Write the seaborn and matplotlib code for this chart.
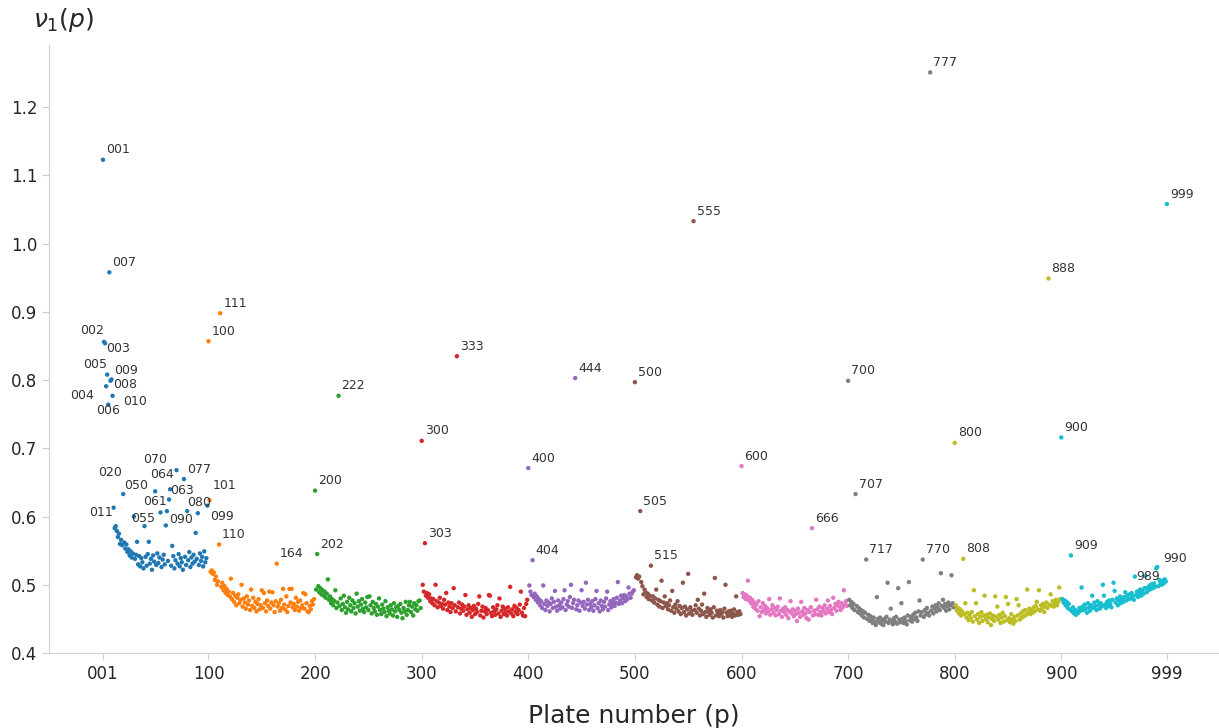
import numpy as np
import pandas as pd
import matplotlib
matplotlib.use("Agg")
import matplotlib.pyplot as plt
import seaborn as sns

# nu_1(p) for plates 001-999, one list per hundred
v000 = [1.123, 0.856, 0.854, 0.791, 0.808, 0.764, 0.958, 0.799, 0.801, 0.777,
        0.613, 0.583, 0.586, 0.579, 0.570, 0.575, 0.560, 0.566, 0.558, 0.633,
        0.562, 0.553, 0.559, 0.548, 0.552, 0.543, 0.549, 0.540, 0.546, 0.600,
        0.538, 0.544, 0.563, 0.530, 0.542, 0.527, 0.539, 0.533, 0.524, 0.586,
        0.541, 0.528, 0.545, 0.563, 0.531, 0.538, 0.522, 0.543, 0.534, 0.637,
        0.529, 0.546, 0.532, 0.540, 0.606, 0.526, 0.537, 0.544, 0.530, 0.587,
        0.608, 0.535, 0.625, 0.640, 0.528, 0.557, 0.542, 0.524, 0.536, 0.668,
        0.531, 0.545, 0.527, 0.539, 0.533, 0.522, 0.655, 0.541, 0.529, 0.608,
        0.536, 0.548, 0.526, 0.540, 0.531, 0.544, 0.534, 0.576, 0.538, 0.605,
        0.529, 0.546, 0.535, 0.541, 0.527, 0.549, 0.533, 0.539, 0.616]
v100 = [0.857, 0.624, 0.519, 0.521, 0.516, 0.518, 0.507, 0.512, 0.500, 0.505,
        0.559, 0.898, 0.497, 0.503, 0.492, 0.498, 0.488, 0.494, 0.485, 0.490,
        0.483, 0.509, 0.479, 0.488, 0.475, 0.484, 0.470, 0.481, 0.486, 0.473,
        0.478, 0.500, 0.468, 0.480, 0.474, 0.465, 0.483, 0.471, 0.477, 0.463,
        0.493, 0.469, 0.481, 0.466, 0.475, 0.461, 0.472, 0.479, 0.464, 0.470,
        0.492, 0.466, 0.488, 0.473, 0.461, 0.477, 0.469, 0.490, 0.465, 0.474,
        0.489, 0.470, 0.460, 0.476, 0.531, 0.468, 0.473, 0.462, 0.478, 0.466,
        0.494, 0.471, 0.464, 0.483, 0.460, 0.469, 0.494, 0.474, 0.494, 0.467,
        0.472, 0.463, 0.481, 0.468, 0.475, 0.462, 0.477, 0.466, 0.470, 0.488,
        0.465, 0.486, 0.473, 0.461, 0.460, 0.469, 0.464, 0.476, 0.471, 0.479]
v200 = [0.638, 0.493, 0.545, 0.498, 0.489, 0.495, 0.486, 0.492, 0.484, 0.490,
        0.481, 0.487, 0.508, 0.478, 0.483, 0.473, 0.479, 0.470, 0.476, 0.492,
        0.466, 0.474, 0.777, 0.469, 0.480, 0.463, 0.472, 0.484, 0.467, 0.459,
        0.475, 0.464, 0.481, 0.470, 0.461, 0.477, 0.466, 0.473, 0.458, 0.487,
        0.468, 0.476, 0.462, 0.471, 0.479, 0.465, 0.460, 0.474, 0.467, 0.482,
        0.463, 0.483, 0.470, 0.458, 0.475, 0.466, 0.461, 0.472, 0.456, 0.468,
        0.480, 0.463, 0.457, 0.471, 0.465, 0.460, 0.476, 0.454, 0.467, 0.462,
        0.458, 0.470, 0.464, 0.455, 0.473, 0.461, 0.467, 0.453, 0.469, 0.463,
        0.472, 0.459, 0.451, 0.466, 0.461, 0.475, 0.456, 0.463, 0.470, 0.475,
        0.460, 0.468, 0.455, 0.473, 0.464, 0.470, 0.462, 0.476, 0.477, 0.466]
v300 = [0.711, 0.500, 0.490, 0.561, 0.484, 0.488, 0.481, 0.486, 0.476, 0.480,
        0.473, 0.479, 0.470, 0.500, 0.476, 0.467, 0.474, 0.481, 0.469, 0.472,
        0.465, 0.478, 0.471, 0.488, 0.463, 0.474, 0.468, 0.460, 0.473, 0.466,
        0.495, 0.470, 0.461, 0.835, 0.467, 0.474, 0.458, 0.465, 0.471, 0.462,
        0.468, 0.485, 0.456, 0.464, 0.470, 0.459, 0.466, 0.453, 0.463, 0.469,
        0.457, 0.465, 0.460, 0.472, 0.483, 0.455, 0.462, 0.468, 0.452, 0.461,
        0.466, 0.457, 0.463, 0.485, 0.484, 0.459, 0.454, 0.467, 0.461, 0.456,
        0.464, 0.470, 0.458, 0.480, 0.453, 0.462, 0.468, 0.457, 0.465, 0.460,
        0.455, 0.467, 0.461, 0.497, 0.458, 0.464, 0.454, 0.469, 0.460, 0.466,
        0.457, 0.463, 0.471, 0.490, 0.459, 0.455, 0.466, 0.454, 0.472, 0.478]
v400 = [0.671, 0.499, 0.490, 0.485, 0.536, 0.482, 0.487, 0.478, 0.483, 0.474,
        0.479, 0.470, 0.476, 0.466, 0.499, 0.472, 0.463, 0.477, 0.469, 0.474,
        0.461, 0.472, 0.480, 0.466, 0.475, 0.491, 0.468, 0.462, 0.477, 0.470,
        0.465, 0.474, 0.467, 0.479, 0.492, 0.463, 0.471, 0.476, 0.468, 0.482,
        0.500, 0.466, 0.473, 0.478, 0.803, 0.464, 0.470, 0.477, 0.462, 0.474,
        0.492, 0.469, 0.475, 0.465, 0.503, 0.471, 0.478, 0.463, 0.472, 0.467,
        0.476, 0.462, 0.470, 0.479, 0.491, 0.466, 0.473, 0.461, 0.477, 0.469,
        0.464, 0.475, 0.468, 0.480, 0.490, 0.463, 0.471, 0.476, 0.467, 0.473,
        0.479, 0.469, 0.474, 0.481, 0.504, 0.472, 0.477, 0.484, 0.473, 0.480,
        0.485, 0.476, 0.483, 0.479, 0.496, 0.487, 0.481, 0.487, 0.490, 0.492]
v500 = [0.797, 0.511, 0.514, 0.509, 0.512, 0.608, 0.504, 0.498, 0.486, 0.493,
        0.489, 0.482, 0.487, 0.479, 0.484, 0.528, 0.477, 0.483, 0.474, 0.480,
        0.493, 0.471, 0.478, 0.468, 0.476, 0.506, 0.466, 0.474, 0.483, 0.469,
        0.473, 0.464, 0.470, 0.477, 0.462, 0.491, 0.467, 0.459, 0.471, 0.465,
        0.476, 0.461, 0.469, 0.457, 0.466, 0.503, 0.460, 0.468, 0.455, 0.464,
        0.516, 0.458, 0.467, 0.462, 0.456, 1.033, 0.463, 0.470, 0.459, 0.478,
        0.465, 0.455, 0.462, 0.471, 0.457, 0.487, 0.460, 0.453, 0.466, 0.461,
        0.456, 0.464, 0.459, 0.452, 0.467, 0.510, 0.455, 0.462, 0.458, 0.454,
        0.463, 0.457, 0.460, 0.452, 0.465, 0.500, 0.459, 0.454, 0.461, 0.456,
        0.462, 0.453, 0.458, 0.464, 0.455, 0.483, 0.460, 0.456, 0.461, 0.457]
v600 = [0.674, 0.488, 0.482, 0.486, 0.479, 0.484, 0.506, 0.477, 0.481, 0.473,
        0.478, 0.468, 0.474, 0.465, 0.471, 0.462, 0.476, 0.454, 0.467, 0.460,
        0.473, 0.463, 0.469, 0.458, 0.466, 0.461, 0.479, 0.456, 0.464, 0.470,
        0.459, 0.466, 0.455, 0.463, 0.468, 0.457, 0.480, 0.462, 0.453, 0.465,
        0.460, 0.467, 0.456, 0.463, 0.451, 0.461, 0.476, 0.458, 0.464, 0.454,
        0.462, 0.457, 0.447, 0.465, 0.459, 0.453, 0.475, 0.461, 0.456, 0.466,
        0.458, 0.451, 0.463, 0.449, 0.460, 0.467, 0.583, 0.455, 0.462, 0.457,
        0.478, 0.464, 0.456, 0.468, 0.460, 0.455, 0.466, 0.461, 0.470, 0.458,
        0.465, 0.477, 0.460, 0.469, 0.463, 0.457, 0.481, 0.466, 0.472, 0.462,
        0.470, 0.475, 0.468, 0.463, 0.473, 0.467, 0.492, 0.471, 0.476, 0.469]
v700 = [0.799, 0.478, 0.470, 0.475, 0.466, 0.472, 0.463, 0.633, 0.469, 0.460,
        0.466, 0.458, 0.463, 0.455, 0.461, 0.452, 0.459, 0.537, 0.450, 0.456,
        0.447, 0.454, 0.449, 0.444, 0.452, 0.446, 0.441, 0.482, 0.450, 0.445,
        0.452, 0.443, 0.448, 0.441, 0.450, 0.446, 0.453, 0.503, 0.444, 0.449,
        0.465, 0.447, 0.442, 0.451, 0.446, 0.453, 0.443, 0.495, 0.449, 0.445,
        0.473, 0.450, 0.444, 0.452, 0.447, 0.442, 0.455, 0.504, 0.448, 0.453,
        0.446, 0.456, 0.450, 0.459, 0.452, 0.447, 0.461, 0.477, 0.455, 0.460,
        0.537, 0.453, 0.463, 0.457, 0.466, 0.459, 0.455, 1.251, 0.462, 0.468,
        0.458, 0.465, 0.470, 0.461, 0.467, 0.473, 0.463, 0.517, 0.469, 0.478,
        0.466, 0.472, 0.462, 0.469, 0.474, 0.464, 0.470, 0.514, 0.473, 0.467]
v800 = [0.708, 0.470, 0.462, 0.466, 0.458, 0.464, 0.455, 0.461, 0.538, 0.457,
        0.473, 0.452, 0.459, 0.448, 0.456, 0.451, 0.460, 0.446, 0.492, 0.454,
        0.473, 0.449, 0.457, 0.444, 0.453, 0.460, 0.447, 0.455, 0.484, 0.450,
        0.456, 0.445, 0.452, 0.458, 0.441, 0.450, 0.455, 0.447, 0.483, 0.453,
        0.468, 0.449, 0.456, 0.444, 0.452, 0.459, 0.446, 0.454, 0.482, 0.448,
        0.472, 0.451, 0.445, 0.457, 0.449, 0.443, 0.453, 0.447, 0.479, 0.455,
        0.470, 0.449, 0.458, 0.452, 0.461, 0.454, 0.463, 0.456, 0.493, 0.459,
        0.465, 0.457, 0.463, 0.459, 0.467, 0.461, 0.469, 0.475, 0.464, 0.492,
        0.462, 0.470, 0.465, 0.472, 0.460, 0.468, 0.474, 0.466, 0.949, 0.471,
        0.486, 0.469, 0.476, 0.468, 0.473, 0.478, 0.470, 0.475, 0.496, 0.479]
v900 = [0.716, 0.479, 0.474, 0.477, 0.470, 0.475, 0.466, 0.472, 0.464, 0.543,
        0.461, 0.467, 0.458, 0.463, 0.456, 0.461, 0.459, 0.466, 0.462, 0.496,
        0.468, 0.463, 0.471, 0.465, 0.459, 0.473, 0.467, 0.462, 0.470, 0.484,
        0.466, 0.474, 0.469, 0.463, 0.476, 0.470, 0.465, 0.473, 0.468, 0.500,
        0.484, 0.471, 0.466, 0.475, 0.469, 0.477, 0.472, 0.467, 0.478, 0.503,
        0.491, 0.474, 0.480, 0.470, 0.477, 0.483, 0.473, 0.479, 0.475, 0.482,
        0.489, 0.477, 0.484, 0.479, 0.486, 0.480, 0.488, 0.483, 0.478, 0.512,
        0.485, 0.490, 0.482, 0.488, 0.493, 0.484, 0.491, 0.487, 0.495, 0.513,
        0.489, 0.496, 0.492, 0.499, 0.494, 0.501, 0.495, 0.502, 0.497, 0.524,
        0.526, 0.498, 0.507, 0.503, 0.500, 0.506, 0.502, 0.508, 0.505, 1.058]

labelled = [1, 2, 3, 4, 5, 6, 7, 8, 9, 10, 11, 20, 50, 55, 61, 63, 64, 70, 77,
            80, 90, 99, 100, 101, 110, 111, 164, 200, 202, 222, 300, 303, 333,
            400, 404, 444, 500, 505, 515, 555, 600, 666, 700, 707, 717, 770,
            777, 800, 808, 888, 900, 909, 989, 990, 999]

# label offsets in pixels (dx, dy up), default (3, 10)
offsets = {2: (-24, 11), 3: (1, -5), 5: (-24, 10), 9: (3, 9), 8: (3, -4),
           4: (-36, -9), 10: (11, -6), 6: (-12, -6), 70: (-33, 11),
           64: (-20, 15), 63: (1, 9), 20: (-25, 22), 50: (-31, 6),
           61: (-24, 10), 80: (0, 9), 11: (-24, -5), 55: (-29, -6),
           90: (-29, -6), 99: (3, -11), 101: (3, 15), 989: (-20, -8),
           990: (6, 9)}

plates = np.arange(1, 1000)
values = np.concatenate([v000, v100, v200, v300, v400, v500, v600, v700, v800, v900])
df = pd.DataFrame({"plate": plates, "nu1": values, "hundred": plates // 100})

sns.set_style("ticks")
fig = plt.figure(figsize=(12.19, 7.28), dpi=100)
ax = fig.add_axes([0.0402, 0.103, 0.959, 0.835])

sns.scatterplot(data=df, x="plate", y="nu1", hue="hundred", palette="tab10",
                s=10, linewidth=0, legend=False, ax=ax)

for p in labelled:
    dx, dy = offsets.get(p, (3, 10))
    ax.annotate("%03d" % p, (p, values[p - 1]), xytext=(dx, dy),
                textcoords="offset pixels", fontsize=9, color="#333333",
                ha="left", va="center")

xt = [1, 100, 200, 300, 400, 500, 600, 700, 800, 900, 999]
ax.set_xticks(xt)
ax.set_xticklabels(["%03d" % t for t in xt])
ax.set_yticks(np.round(np.arange(0.4, 1.21, 0.1), 1))
ax.set_xlim(-49.6, 1047)
ax.set_ylim(0.4, 1.291)

sns.despine(ax=ax)
for side in ["left", "bottom"]:
    ax.spines[side].set_color("#d0d0d0")
ax.tick_params(color="#d0d0d0", length=5, labelsize=12)

ax.set_ylabel("")
ax.set_xlabel("Plate number (p)", fontsize=18, labelpad=15)
fig.text(0.027, 0.9725, r"$\nu_1(p)$", fontsize=18, ha="left", va="center")

fig.savefig("out.png", dpi=100)
